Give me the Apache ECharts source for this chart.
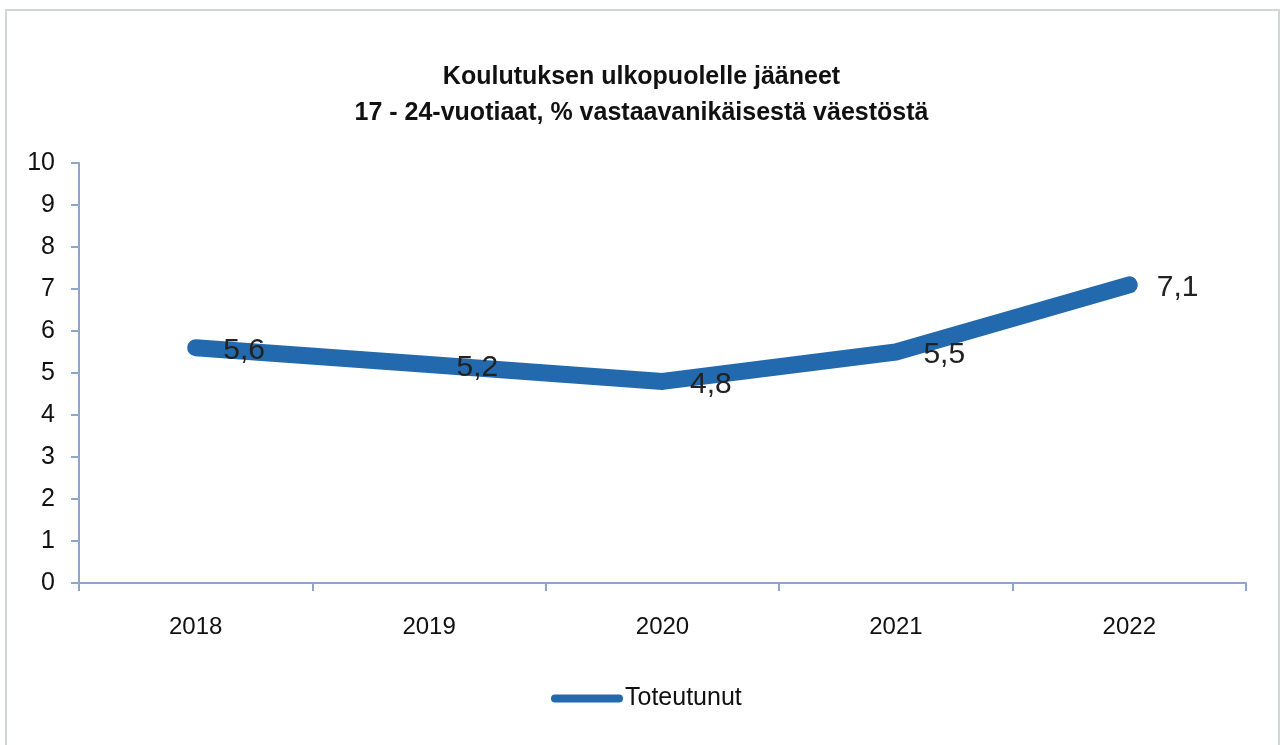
<!DOCTYPE html>
<html>
<head>
<meta charset="utf-8">
<script src="https://cdn.jsdelivr.net/npm/echarts@6/dist/echarts.min.js"></script>
<style>
    html, body { margin: 0; padding: 0; background: #fff; }
    #frame {
        position: absolute; left: 5px; top: 9px; width: 1275px; height: 740px;
        border: 2px solid #d3d6d6; border-bottom: none; box-sizing: border-box;
    }
    #chart { position: absolute; left: 0; top: 0; width: 1283px; height: 745px; }
</style>
</head>
<body>
<div id="frame"></div>
<div id="chart"></div>
<script>
// Chart data
const years = ['2018', '2019', '2020', '2021', '2022'];
const toteutunut = [5.6, 5.2, 4.8, 5.5, 7.1];
const yTicks = [0, 1, 2, 3, 4, 5, 6, 7, 8, 9, 10];

const lineBlue = '#2369ad';
const axisBlue = '#8fa6cc';
const font = "'Liberation Sans', sans-serif";

document.addEventListener('DOMContentLoaded', function() {
    const chart = echarts.init(document.getElementById('chart'));

    chart.setOption({
        animation: false,
        title: {
            text: 'Koulutuksen ulkopuolelle jääneet\n17 - 24-vuotiaat, % vastaavanikäisestä väestöstä',
            left: 'center',
            top: 54,
            textStyle: {
                fontFamily: font,
                fontWeight: 'bold',
                fontSize: 25,
                lineHeight: 36,
                color: '#111'
            }
        },
        legend: {
            left: 546,
            top: 681,
            icon: 'path://M4,0 H68 A4,4 0 0 1 68,8 H4 A4,4 0 0 1 4,0 Z',
            itemWidth: 72,
            itemHeight: 9,
            itemGap: 10,
            itemStyle: { color: lineBlue },
            textStyle: { fontFamily: font, fontSize: 25, color: '#111', padding: [0, 0, 0, -3] },
            data: ['Toteutunut']
        },
        grid: { left: 79, right: 37, top: 163, bottom: 162 },
        xAxis: {
            type: 'category',
            data: years,
            boundaryGap: true,
            axisLine: { lineStyle: { color: axisBlue, width: 2 } },
            axisTick: { show: true, length: 8, lineStyle: { color: axisBlue, width: 2 } },
            axisLabel: { margin: 32, fontFamily: font, fontSize: 24, color: '#111' }
        },
        yAxis: {
            type: 'value',
            min: yTicks[0],
            max: yTicks[yTicks.length - 1],
            interval: 1,
            splitLine: { show: false },
            axisLine: { show: true, lineStyle: { color: axisBlue, width: 2 } },
            axisTick: { show: true, length: 8, lineStyle: { color: axisBlue, width: 2 } },
            axisLabel: { margin: 24, fontFamily: font, fontSize: 25, color: '#111' }
        },
        series: [{
            name: 'Toteutunut',
            type: 'line',
            data: toteutunut,
            symbol: 'circle',
            symbolSize: 1,
            showSymbol: true,
            lineStyle: { color: lineBlue, width: 17, cap: 'round', join: 'round' },
            itemStyle: { color: lineBlue },
            label: {
                show: true,
                position: 'right',
                distance: 27,
                offset: [0, 3],
                fontFamily: font,
                fontSize: 30,
                color: '#222',
                formatter: p => String(p.value).replace('.', ',')
            }
        }]
    });
});
</script>
</body>
</html>
